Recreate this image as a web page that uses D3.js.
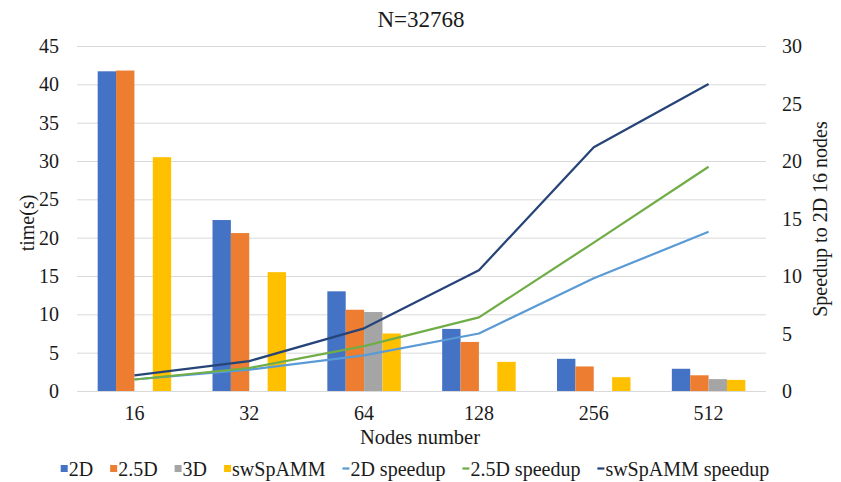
<!DOCTYPE html>
<html lang="en">
<head>
<meta charset="UTF-8">
<title>N=32768</title>
<script src="https://d3js.org/d3.v7.min.js"></script>
<style>
  body { margin: 0; background: #fff; }
</style>
</head>
<body>
<div id="chart"></div>
<script>

// data
const categories = ["16", "32", "64", "128", "256", "512"];
const time2D   = [41.7, 22.3, 13.0, 8.1, 4.2, 2.9];
const time25D  = [41.8, 20.6, 10.6, 6.4, 3.2, 2.05];
const time3D   = [null, null, 10.3, null, null, 1.55];
const timeSw   = [30.5, 15.5, 7.5, 3.8, 1.8, 1.45];
const speed2D  = [1.0, 1.85, 3.1, 5.0, 9.8, 13.85];
const speed25D = [1.0, 2.0, 3.9, 6.4, 12.9, 19.5];
const speedSw  = [1.35, 2.6, 5.45, 10.5, 21.2, 26.7];
const leftTicks = [0, 5, 10, 15, 20, 25, 30, 35, 40, 45];
const rightTicks = [0, 5, 10, 15, 20, 25, 30];

const barSeries = [
  { name: "2D", values: time2D, color: "#4472C4" },
  { name: "2.5D", values: time25D, color: "#ED7D31" },
  { name: "3D", values: time3D, color: "#A5A5A5" },
  { name: "swSpAMM", values: timeSw, color: "#FFC000" }
];
const lineSeries = [
  { name: "2D speedup", values: speed2D, color: "#5B9BD5" },
  { name: "2.5D speedup", values: speed25D, color: "#70AD47" },
  { name: "swSpAMM speedup", values: speedSw, color: "#264478" }
];

const width = 841, height = 482;
const plot = { left: 77, right: 766, top: 46, bottom: 391 };

const svg = d3.select("#chart").append("svg")
  .attr("width", width)
  .attr("height", height)
  .attr("font-family", "'Liberation Serif', 'Times New Roman', 'DejaVu Serif'")
  .attr("fill", "#1a1a1a");

// scales
const x0 = d3.scaleBand().domain(categories).range([plot.left, plot.right]);
const groupW = x0.bandwidth() * 0.64;
const x1 = d3.scaleBand().domain(barSeries.map(d => d.name)).range([0, groupW]);
const yL = d3.scaleLinear().domain([0, 45]).range([plot.bottom, plot.top]);
const yR = d3.scaleLinear().domain([0, 30]).range([plot.bottom, plot.top]);

// gridlines
svg.append("g").selectAll("line")
  .data(leftTicks)
  .join("line")
    .attr("x1", plot.left).attr("x2", plot.right)
    .attr("y1", d => yL(d) + 0.5).attr("y2", d => yL(d) + 0.5)
    .attr("stroke", "#D9D9D9")
    .attr("stroke-width", 1);

// left axis labels
svg.append("g").selectAll("text")
  .data(leftTicks)
  .join("text")
    .attr("x", 59)
    .attr("y", d => yL(d))
    .attr("dy", "0.35em")
    .attr("text-anchor", "end")
    .attr("font-size", 20)
    .text(d => d);

// right axis labels
svg.append("g").selectAll("text")
  .data(rightTicks)
  .join("text")
    .attr("x", 782)
    .attr("y", d => yR(d))
    .attr("dy", "0.35em")
    .attr("text-anchor", "start")
    .attr("font-size", 20)
    .text(d => d);

// category labels
svg.append("g").selectAll("text")
  .data(categories)
  .join("text")
    .attr("x", d => x0(d) + x0.bandwidth() / 2)
    .attr("y", 420)
    .attr("text-anchor", "middle")
    .attr("font-size", 20)
    .text(d => d);

// bars
const groups = svg.append("g").selectAll("g")
  .data(categories)
  .join("g")
    .attr("transform", d => `translate(${x0(d) + (x0.bandwidth() - groupW) / 2},0)`);

groups.selectAll("rect")
  .data((c, i) => barSeries.map(s => ({ name: s.name, color: s.color, v: s.values[i] })).filter(d => d.v != null))
  .join("rect")
    .attr("x", d => x1(d.name))
    .attr("width", x1.bandwidth())
    .attr("y", d => yL(d.v))
    .attr("height", d => yL(0) - yL(d.v))
    .attr("fill", d => d.color);

// lines
const line = d3.line()
  .x((d, i) => x0(categories[i]) + x0.bandwidth() / 2)
  .y(d => yR(d));

svg.append("g").selectAll("path")
  .data(lineSeries)
  .join("path")
    .attr("d", d => line(d.values))
    .attr("fill", "none")
    .attr("stroke", d => d.color)
    .attr("stroke-width", 2.25)
    .attr("stroke-linejoin", "round");

// title and axis titles
svg.append("text")
  .attr("x", 421).attr("y", 27)
  .attr("text-anchor", "middle")
  .attr("font-size", 23)
  .text("N=32768");

svg.append("text")
  .attr("transform", "translate(27,223) rotate(-90)")
  .attr("dy", "0.35em")
  .attr("text-anchor", "middle")
  .attr("font-size", 20)
  .text("time(s)");

svg.append("text")
  .attr("transform", "translate(820,219) rotate(-90)")
  .attr("dy", "0.35em")
  .attr("text-anchor", "middle")
  .attr("font-size", 20)
  .text("Speedup to 2D 16 nodes");

svg.append("text")
  .attr("x", 420).attr("y", 444)
  .attr("text-anchor", "middle")
  .attr("font-size", 20.5)
  .text("Nodes number");

// legend
const legendItems = barSeries.map(d => ({ ...d, type: "bar" }))
  .concat(lineSeries.map(d => ({ ...d, type: "line" })));
const legend = svg.append("g");
let lx = 0;
legendItems.forEach(d => {
  const item = legend.append("g").attr("transform", `translate(${lx},0)`);
  if (d.type === "bar") {
    item.append("rect").attr("x", 0).attr("y", -11).attr("width", 7).attr("height", 7).attr("fill", d.color);
  } else {
    item.append("line").attr("x1", 0).attr("x2", 7).attr("y1", -7.5).attr("y2", -7.5)
      .attr("stroke", d.color).attr("stroke-width", 2.25);
  }
  const t = item.append("text").attr("x", 8).attr("y", 0).attr("font-size", 20).text(d.name);
  lx += 8 + t.node().getComputedTextLength() + 17;
});
const legendW = lx - 17;
legend.attr("transform", `translate(${415 - legendW / 2},476)`);

</script>
</body>
</html>
